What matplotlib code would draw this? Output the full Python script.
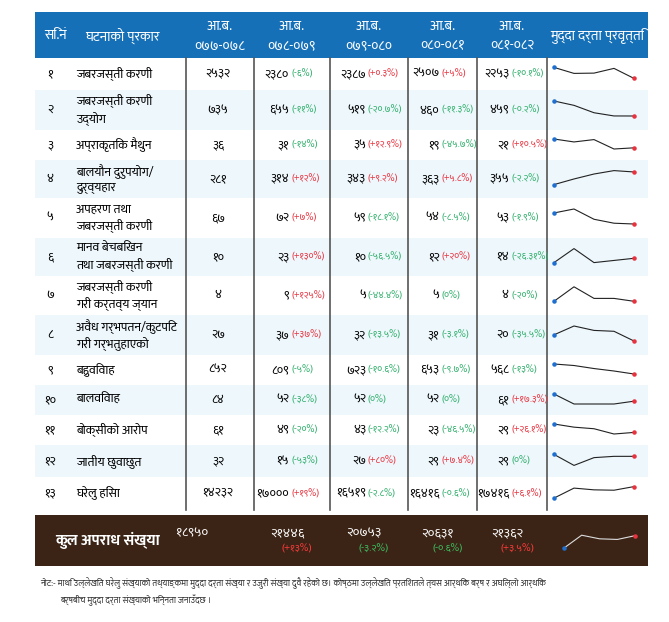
import glob
import matplotlib
matplotlib.use('Agg')
import matplotlib.pyplot as plt
from matplotlib import font_manager as fm

# try to find a font with Devanagari glyphs
fams = []
for f in glob.glob('/usr/share/fonts/**/*.[ot]tf', recursive=True):
    if 'Devanagari' in f or 'Mukta' in f or 'Lohit' in f or 'Kalimati' in f:
        try:
            fm.fontManager.addfont(f)
            fams.append(fm.FontProperties(fname=f).get_name())
        except Exception:
            pass
fams = list(dict.fromkeys(fams)) + ['Noto Sans', 'DejaVu Sans']
plt.rcParams['font.family'] = fams

years = ['०७७-०७८', '०७८-०७९', '०७९-०८०', '०८०-०८१', '०८१-०८२']
crimes = ['जबरजस्ती करणी', 'जबरजस्ती करणी\nउद्योग', 'अप्राकृतिक मैथुन',
          'बालयौन दुरुपयोग/\nदुर्व्यहार', 'अपहरण तथा\nजबरजस्ती करणी',
          'मानव बेचबिखन\nतथा जबरजस्ती करणी', 'जबरजस्ती करणी\nगरी कर्तव्य ज्यान',
          'अवैध गर्भपतन/कुटपिट\nगरी गर्भतुहाएको', 'बहुविवाह', 'बालविवाह',
          'बोक्सीको आरोप', 'जातीय छुवाछुत', 'घरेलु हिंसा']
counts = [
    [2532, 2380, 2387, 2507, 2253],
    [735, 655, 519, 460, 459],
    [36, 31, 35, 19, 21],
    [281, 314, 343, 363, 355],
    [67, 72, 59, 54, 53],
    [10, 23, 10, 12, 14],
    [4, 9, 5, 5, 4],
    [27, 37, 32, 31, 20],
    [852, 809, 723, 653, 568],
    [84, 52, 52, 52, 61],
    [61, 49, 43, 23, 29],
    [32, 15, 27, 29, 29],
    [14232, 17000, 16519, 16416, 17416],
]
changes = [
    ['-6', '+0.3', '+5', '-10.1'],
    ['-11', '-20.7', '-11.3', '-0.2'],
    ['-14', '+12.9', '-45.7', '+10.5'],
    ['+12', '+9.2', '+5.8', '-2.2'],
    ['+7', '-18.1', '-8.5', '-1.9'],
    ['+130', '-56.5', '+20', '-26.31'],
    ['+125', '-44.4', '0', '-20'],
    ['+37', '-13.5', '-3.1', '-35.5'],
    ['-5', '-10.6', '-9.7', '-13'],
    ['-38', '0', '0', '+17.3'],
    ['-20', '-12.2', '-46.5', '+26.1'],
    ['-53', '+80', '+7.4', '0'],
    ['+19', '-2.8', '-0.6', '+6.1'],
]
total = [18950, 21446, 20753, 20631, 21362]
total_chg = ['+13', '-3.2', '-0.6', '+3.5']

DIG = str.maketrans('0123456789', '०१२३४५६७८९')
def dev(x):
    return str(x).translate(DIG)

BLUE = '#1670b8'
BROWN = '#3b2416'
GREEN = '#2eae6a'
RED = '#e8333f'
SHADE = '#eef7fc'

W, H = 669, 622
fig = plt.figure(figsize=(W / 100, H / 100), dpi=100)
ax = fig.add_axes([0, 0, 1, 1])
ax.set_xlim(0, W)
ax.set_ylim(H, 0)
ax.axis('off')

L, R = 35, 648
vlines = [186, 254, 330, 408, 477, 547]
row_edges = [58, 90, 130, 160, 198, 238, 276, 315, 355, 385, 415, 445, 477, 510]


def spark(rect, vals, col):
    sp = fig.add_axes(rect)
    sp.plot(range(5), vals, color=col, lw=0.8)
    sp.scatter([0], [vals[0]], s=5, color='#1f6fd0', zorder=3)
    sp.scatter([4], [vals[4]], s=5, color=RED, zorder=3)
    lo, hi = min(vals), max(vals)
    rng = (hi - lo) or 1
    sp.set_ylim(lo - 0.6 * rng, hi + 0.4 * rng)
    sp.set_xlim(-0.1, 4.1)
    sp.axis('off')


# header
ax.add_patch(plt.Rectangle((L, 12), R - L, 46, color=BLUE, lw=0))
ax.text(44, 36, 'सि.नं', color='white', fontsize=10, va='center')
ax.text(85, 36, 'घटनाको प्रकार', color='white', fontsize=10, va='center')
for i, y in enumerate(years):
    cx = (vlines[i] + vlines[i + 1]) / 2
    ax.text(cx, 26, 'आ.ब.', color='white', fontsize=10, ha='center', va='center')
    ax.text(cx, 46, y, color='white', fontsize=10, ha='center', va='center')
ax.text((547 + R) / 2, 36, 'मुद्दा दर्ता प्रवृत्ति', color='white', fontsize=10,
        ha='center', va='center')

for r in range(len(crimes)):
    y0, y1 = row_edges[r], row_edges[r + 1]
    cy = (y0 + y1) / 2
    if r % 2 == 1:
        ax.add_patch(plt.Rectangle((L, y0), R - L, y1 - y0, color=SHADE, lw=0))
    ax.text(50, cy, dev(r + 1), fontsize=9, ha='center', va='center')
    ax.text(76, cy, crimes[r], fontsize=9, va='center', linespacing=1.3)
    ax.text(218, cy, dev(counts[r][0]), fontsize=9, ha='center', va='center')
    for j in range(4):
        cx = (vlines[j + 1] + vlines[j + 2]) / 2
        c = changes[r][j]
        col = RED if c.startswith('+') else GREEN
        ax.annotate(dev(counts[r][j + 1]), (cx - 3, cy), fontsize=9, ha='right', va='center')
        ax.annotate('(' + dev(c) + '%)', (cx - 1, cy), fontsize=7, ha='left',
                    va='center', color=col)
    spark([552 / W, 1 - (y1 - 5) / H, 84 / W, (y1 - y0 - 10) / H], counts[r], '#222222')

for x in vlines:
    ax.plot([x, x], [58, 510], color='#555555', lw=1.2)

# total band
ax.add_patch(plt.Rectangle((L, 515), R - L, 51, color=BROWN, lw=0))
ax.text(55, 540, 'कुल अपराध संख्या', color='white', fontsize=11, va='center',
        fontweight='bold')
ax.text(192, 533, dev(total[0]), color='white', fontsize=9.5, ha='center', va='center')
for j in range(4):
    cx = (vlines[j + 1] + vlines[j + 2]) / 2
    c = total_chg[j]
    ax.text(cx - 5, 533, dev(total[j + 1]), color='white', fontsize=9.5, ha='center', va='center')
    ax.text(cx + 5, 549, '(' + dev(c) + '%)', fontsize=7.5, ha='center', va='center',
            color='#ff3b3b' if c.startswith('+') else '#3cc060')
spark([562 / W, 1 - 556 / H, 75 / W, 26 / H], total, '#dddddd')

ax.text(40, 583, 'नोट:- माथि उल्लेखित घरेलु संख्याको तथ्याङ्कमा मुद्दा दर्ता संख्या र उजुरी संख्या दुवै रहेको छ। '
        'कोष्ठमा उल्लेखित प्रतिशतले त्यस आर्थिक बर्ष र अघिल्लो आर्थिक',
        fontsize=6.3, va='center', style='italic', color='#333333')
ax.text(60, 600, 'बर्षबीच मुद्दा दर्ता संख्याको भिन्नता जनाउँदछ ।',
        fontsize=6.3, va='center', style='italic', color='#333333')

fig.savefig('out.png', dpi=100)
